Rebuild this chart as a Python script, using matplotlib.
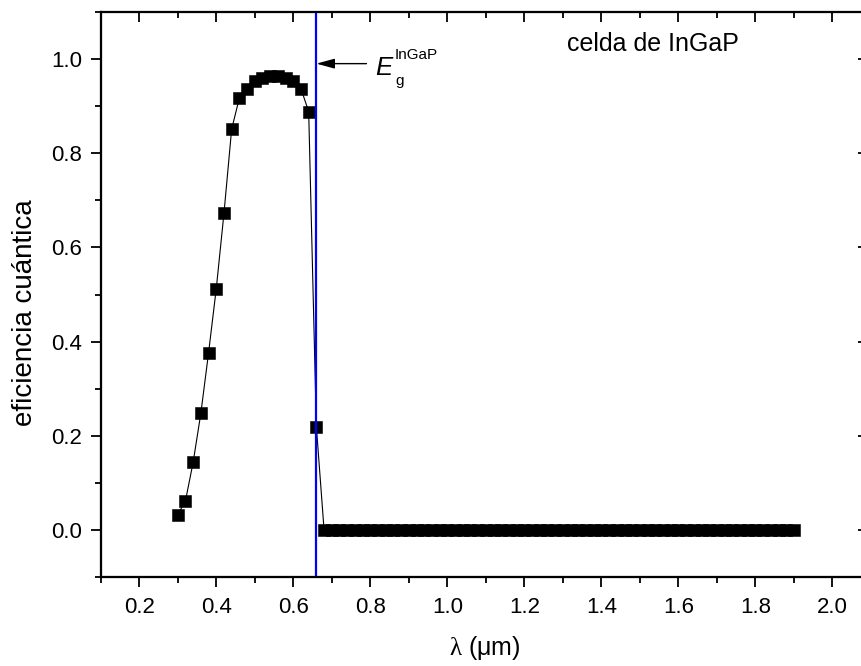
import matplotlib
matplotlib.use("Agg")
import matplotlib.pyplot as plt
from matplotlib.ticker import MultipleLocator, FormatStrFormatter

plt.rcParams['font.family'] = ['Liberation Sans', 'DejaVu Sans']
plt.rcParams['mathtext.fontset'] = 'custom'
plt.rcParams['mathtext.sf'] = 'Liberation Serif'
plt.rcParams['mathtext.rm'] = 'Liberation Sans'

# ---- data ----
wavelength_rise = [0.30, 0.32, 0.34, 0.36, 0.38, 0.40, 0.42, 0.44, 0.46, 0.48,
                   0.50, 0.52, 0.54, 0.56, 0.58, 0.60, 0.62, 0.64, 0.66]
qe_rise = [0.033, 0.062, 0.144, 0.248, 0.376, 0.512, 0.672, 0.851, 0.917, 0.937,
           0.953, 0.960, 0.963, 0.963, 0.960, 0.953, 0.937, 0.888, 0.219]
wavelength_flat = [round(0.68 + 0.02 * i, 2) for i in range(62)]  # 0.68 ... 1.90 sampling grid
qe_flat = [0.0] * len(wavelength_flat)
wavelength = wavelength_rise + wavelength_flat
qe = qe_rise + qe_flat

eg_wavelength = 0.66
xlim = (0.1, 2.1)
ylim = (-0.1, 1.1)

W, H = 861, 666
fig = plt.figure(figsize=(W / 100, H / 100), dpi=100)
left, right, top, bottom = 100.7, 871.0, 11.8, 577.3
ax = fig.add_axes([left / W, 1 - bottom / H, (right - left) / W, (bottom - top) / H])

ax.plot(wavelength, qe, color='black', lw=0.8, marker='s', markersize=8,
        markerfacecolor='black', markeredgecolor='black', markeredgewidth=0.4, zorder=3)
ax.axvline(eg_wavelength, color='#0000FF', lw=1.6, zorder=4)

ax.set_xlim(*xlim)
ax.set_ylim(*ylim)
ax.xaxis.set_major_locator(MultipleLocator(0.2))
ax.xaxis.set_minor_locator(MultipleLocator(0.1))
ax.yaxis.set_major_locator(MultipleLocator(0.2))
ax.yaxis.set_minor_locator(MultipleLocator(0.1))
ax.xaxis.set_major_formatter(FormatStrFormatter('%.1f'))
ax.yaxis.set_major_formatter(FormatStrFormatter('%.1f'))
ax.set_xticks([v / 10 for v in range(2, 21, 2)])

for s in ax.spines.values():
    s.set_linewidth(1.5)

ax.tick_params(axis='both', which='both', width=1.3, labelsize=16)
ax.tick_params(axis='x', which='major', direction='out', length=7.5, pad=7)
ax.tick_params(axis='x', which='minor', direction='out', length=4)
ax.tick_params(axis='y', which='major', direction='out', length=7.5, pad=6)
ax.tick_params(axis='y', which='minor', direction='out', length=4)
ax.tick_params(axis='x', which='both', top=False)
ax.tick_params(axis='y', which='both', right=False)

# top ticks (inward)
axt = ax.twiny()
axt.set_xlim(*xlim)
axt.xaxis.set_major_locator(MultipleLocator(0.2))
axt.xaxis.set_minor_locator(MultipleLocator(0.1))
axt.tick_params(axis='x', which='major', direction='in', length=7.5, width=1.3, labeltop=False)
axt.tick_params(axis='x', which='minor', direction='in', length=4, width=1.3)
# right ticks (inward)
axr = ax.twinx()
axr.set_ylim(*ylim)
axr.yaxis.set_major_locator(MultipleLocator(0.2))
axr.yaxis.set_minor_locator(MultipleLocator(0.1))
axr.tick_params(axis='y', which='major', direction='in', length=9.5, width=1.3, labelright=False)
axr.tick_params(axis='y', which='minor', direction='in', length=4, width=1.3)
for a in (axt, axr):
    for s in a.spines.values():
        s.set_linewidth(1.5)

# arrow annotation
ax.annotate('', xy=(eg_wavelength, 0.99), xytext=(0.79, 0.99),
            arrowprops=dict(arrowstyle='-|>,head_length=1.1,head_width=0.3',
                            mutation_scale=10, color='black', lw=1.0,
                            shrinkA=0, shrinkB=0), zorder=5)

def px(x, y):
    return x / W, 1 - y / H

fig.text(*px(375, 75), 'E', fontsize=18.5, style='italic', ha='left', va='baseline')
fig.text(*px(395, 59), 'InGaP', fontsize=11, ha='left', va='baseline')
fig.text(*px(395, 85), 'g', fontsize=11, ha='left', va='baseline')

fig.text(*px(567, 51), 'celda de InGaP', fontsize=18, ha='left', va='baseline')

fig.text(*px(485, 655), r'$\mathsf{\lambda}$ (μm)', fontsize=18, ha='center', va='baseline')
fig.text(*px(32, 313), 'eficiencia cuántica', fontsize=20, rotation=90,
         rotation_mode='anchor', ha='center', va='baseline')

fig.savefig('out.png', dpi=100)
